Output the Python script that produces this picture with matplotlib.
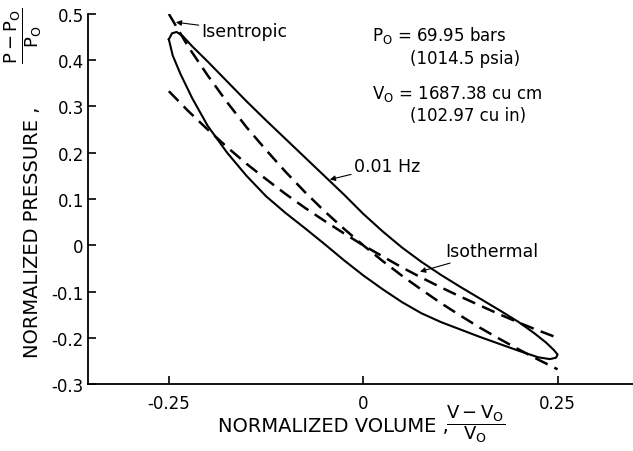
import matplotlib
matplotlib.use("Agg")
import matplotlib.pyplot as plt

# normalized volume grid for the two reference curves
vol = [-0.25, -0.225, -0.2, -0.175, -0.15, -0.125, -0.1, -0.075, -0.05, -0.025,
       0.0, 0.025, 0.05, 0.075, 0.1, 0.125, 0.15, 0.175, 0.2, 0.225, 0.25]
isentropic = [0.500, 0.429, 0.367, 0.309, 0.255, 0.206, 0.159, 0.115, 0.074, 0.036,
              0.0, -0.034, -0.066, -0.096, -0.125, -0.152, -0.178, -0.202, -0.225, -0.247, -0.268]
isothermal = [0.333, 0.290, 0.250, 0.212, 0.176, 0.143, 0.111, 0.081, 0.053, 0.026,
              0.0, -0.024, -0.048, -0.070, -0.091, -0.111, -0.130, -0.149, -0.167, -0.184, -0.200]

# measured 0.01 Hz loop (closed path: upper branch left->right, lower branch right->left)
loop_v = [-0.250, -0.246, -0.240, -0.232, -0.220, -0.200, -0.175, -0.150, -0.125, -0.100,
          -0.075, -0.050, -0.025, 0.000, 0.025, 0.050, 0.075, 0.100, 0.125, 0.150,
          0.175, 0.200, 0.220, 0.235, 0.245, 0.250,
          0.248, 0.240, 0.225, 0.200, 0.175, 0.150, 0.125, 0.100, 0.075, 0.050,
          0.025, 0.000, -0.025, -0.050, -0.075, -0.100, -0.125, -0.150, -0.175, -0.200,
          -0.220, -0.235, -0.245, -0.250]
loop_p = [0.445, 0.458, 0.461, 0.452, 0.430, 0.397, 0.354, 0.311, 0.270, 0.230,
          0.190, 0.150, 0.110, 0.068, 0.030, -0.005, -0.036, -0.064, -0.090, -0.115,
          -0.140, -0.166, -0.190, -0.210, -0.226, -0.236,
          -0.243, -0.246, -0.242, -0.228, -0.213, -0.198, -0.182, -0.166, -0.147, -0.123,
          -0.095, -0.065, -0.032, 0.003, 0.037, 0.070, 0.106, 0.150, 0.200, 0.258,
          0.318, 0.370, 0.410, 0.445]

xticks = [-0.25, 0, 0.25]
xtick_labels = ["-0.25", "0", "0.25"]
yticks = [-0.3, -0.2, -0.1, 0, 0.1, 0.2, 0.3, 0.4, 0.5]
ytick_labels = ["-0.3", "-0.2", "-0.1", "0", "0.1", "0.2", "0.3", "0.4", "0.5"]

plt.rcParams['font.family'] = ['DejaVu Sans']
plt.rcParams['mathtext.fontset'] = 'dejavusans'

W, H = 633, 452
fig = plt.figure(figsize=(W / 100, H / 100), dpi=100)
ax = fig.add_axes([0.139, 0.148, 0.861, 0.819])

ax.plot(loop_v, loop_p, color='black', lw=1.5)
ax.plot(vol, isentropic, color='black', lw=1.8, dashes=(5.5, 3))
ax.plot(vol, isothermal, color='black', lw=1.8, dashes=(5.5, 3))

ax.set_xlim(-0.354, 0.347)
ax.set_ylim(-0.3, 0.5)
ax.set_xticks(xticks)
ax.set_xticklabels(xtick_labels)
ax.set_yticks(yticks)
ax.set_yticklabels(ytick_labels)
ax.tick_params(direction='in', length=6, width=1.2, labelsize=12, colors='black')
ax.tick_params(axis='x', pad=7)
ax.tick_params(axis='y', pad=3)
for side in ['top', 'right']:
    ax.spines[side].set_visible(False)
for side in ['left', 'bottom']:
    ax.spines[side].set_linewidth(1.3)

# axis titles placed by hand (pixel positions), like the original lettering
fig.text(218 / W, 1 - 432 / H, "NORMALIZED VOLUME ,", fontsize=14, ha='left', va='baseline')
fig.text(476 / W, 1 - 424 / H, r"$\dfrac{\mathrm{V-V_O}}{\mathrm{V_O}}$",
         fontsize=13, ha='center', va='center')
fig.text(38 / W, 1 - 358 / H, "NORMALIZED PRESSURE ,", fontsize=14, ha='left', va='baseline',
         rotation=90, rotation_mode='anchor')
fig.text(23 / W, 1 - 36 / H, r"$\dfrac{\mathrm{P-P_O}}{\mathrm{P_O}}$",
         fontsize=13, ha='center', va='center', rotation=90, rotation_mode='anchor')

arrow = dict(arrowstyle='-|>', color='black', lw=0.8, mutation_scale=8, shrinkA=0, shrinkB=0)
ax.annotate("Isentropic", xy=(-0.241, 0.482), xytext=(-0.208, 0.463),
            fontsize=12.5, va='center', ha='left', arrowprops=arrow)
ax.annotate("0.01 Hz", xy=(-0.043, 0.142), xytext=(-0.012, 0.172),
            fontsize=12.5, va='center', ha='left', arrowprops=arrow)
ax.annotate("Isothermal", xy=(0.073, -0.057), xytext=(0.105, -0.013),
            fontsize=12.5, va='center', ha='left', arrowprops=arrow)

ax.text(0.011, 0.455, r"$\mathrm{P_O}$ = 69.95 bars", fontsize=12, va='center', ha='left')
ax.text(0.060, 0.405, "(1014.5 psia)", fontsize=12, va='center', ha='left')
ax.text(0.011, 0.330, r"$\mathrm{V_O}$ = 1687.38 cu cm", fontsize=12, va='center', ha='left')
ax.text(0.060, 0.281, "(102.97 cu in)", fontsize=12, va='center', ha='left')

plt.savefig("out.png", dpi=100)
plt.close(fig)
